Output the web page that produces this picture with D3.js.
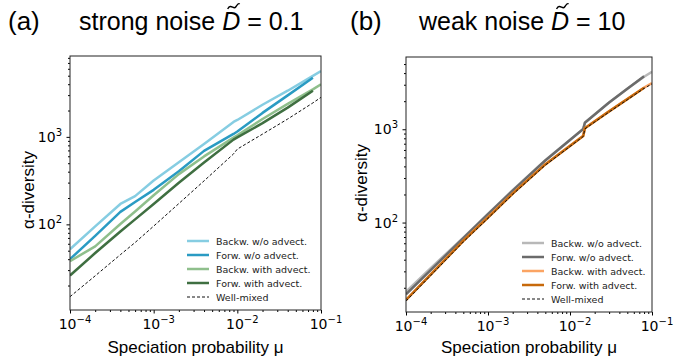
<!DOCTYPE html>
<html>
<head>
<meta charset="utf-8">
<script src="https://cdn.jsdelivr.net/npm/d3@7"></script>
<style>
  body { margin: 0; background: #fff; }
  svg { display: block; }
</style>
</head>
<body>
<div id="chart"></div>
<script>
// panel (a): strong noise
const muA = [1e-4, 2e-4, 4e-4, 6e-4, 1e-3, 2e-3, 4e-3, 9e-3, 1e-2, 2e-2, 4e-2, 8e-2, 1e-1];
const backwNoAdvA = [52, 95, 171, 210, 317, 512, 828, 1480, 1560, 2330, 3370, 4980, 5650];
const forwNoAdvA  = [40, 74, 139, 180, 248, 405, 692, 1080, 1150, 1880, 2980, 4740, null];
const backwAdvA   = [38, 56, 101, 140, 215, 375, 598, 980, 1040, 1600, 2380, 3490, 3980];
const forwAdvA    = [26, 47, 83, 114, 171, 299, 509, 930, 985, 1435, 2160, 3370, null];
const wellMixedA  = [14.9, 25.8, 45, 62, 95.5, 173, 314, 638, 725, 1075, 1600, 2445, 2830];

// panel (b): weak noise
const muB = [1e-4, 2e-4, 5e-4, 1e-3, 2e-3, 5e-3, 1.45e-2, 1.52e-2, 3e-2, 5e-2, 8e-2, 1e-1];
const backwNoAdvB = [18.2, 32.4, 69, 124, 222, 467, 1010, 1180, 1940, 2720, 3650, 4140];
const forwNoAdvB  = [17.0, 31, 68, 123, 220, 463, 1005, 1175, 1935, 2715, 3700, null];
const backwAdvB   = [14.8, 27.8, 63.8, 114, 205, 422, 850, 1030, 1560, 2110, 2790, 3125];
const forwAdvB    = [14.8, 27.6, 63.5, 113, 204, 420, 846, 1025, 1555, 2105, 2785, null];
const wellMixedB  = [14.4, 27.0, 62.0, 111, 200, 412, 836, 1010, 1530, 2070, 2740, 3070];

const legendLabels = ["Backw. w/o advect.", "Forw. w/o advect.", "Backw. with advect.", "Forw. with advect.", "Well-mixed"];
const xMajor = [1e-4, 1e-3, 1e-2, 1e-1];
const xExp = ["−4", "−3", "−2", "−1"];
const yMajor = [1e2, 1e3];
const yExp = ["2", "3"];

const svg = d3.select("#chart").append("svg")
  .attr("width", 685)
  .attr("height", 362);

function minorTicks(lo, hi) {
  const out = [];
  for (let e = Math.floor(Math.log10(lo)); e <= Math.ceil(Math.log10(hi)); e++) {
    for (let k = 2; k <= 9; k++) {
      const v = k * Math.pow(10, e);
      if (v >= lo && v <= hi) out.push(v);
    }
  }
  return out;
}

function drawPanel(p) {
  const x = d3.scaleLog().domain([1e-4, 1e-1]).range([p.left, p.right]);
  const y = d3.scaleLog().domain(p.yDomain).range([p.bottom, p.top]);

  const clipId = "clip-" + p.key;
  svg.append("clipPath").attr("id", clipId)
    .append("rect")
    .attr("x", p.left).attr("y", p.top)
    .attr("width", p.right - p.left).attr("height", p.bottom - p.top);

  const line = d3.line()
    .defined(d => d[1] != null)
    .x(d => x(d[0]))
    .y(d => y(d[1]));

  const g = svg.append("g").attr("clip-path", `url(#${clipId})`);
  p.series.forEach(s => {
    g.append("path")
      .datum(p.mu.map((m, i) => [m, s.values[i]]))
      .attr("fill", "none")
      .attr("stroke", s.color)
      .attr("stroke-width", s.dash ? 1 : 2.5)
      .attr("stroke-dasharray", s.dash ? "3,2" : null)
      .attr("stroke-linejoin", "round")
      .attr("d", line);
  });

  // minor ticks
  svg.append("g")
    .attr("transform", `translate(0,${p.bottom})`)
    .call(d3.axisBottom(x).tickValues(minorTicks(1e-4, 1e-1)).tickSize(2).tickFormat(""))
    .call(a => a.select(".domain").remove());
  svg.append("g")
    .attr("transform", `translate(${p.left},0)`)
    .call(d3.axisLeft(y).tickValues(minorTicks(p.yDomain[0], p.yDomain[1])).tickSize(2).tickFormat(""))
    .call(a => a.select(".domain").remove());

  // major ticks
  svg.append("g")
    .attr("transform", `translate(0,${p.bottom})`)
    .call(d3.axisBottom(x).tickValues(xMajor).tickSize(3.5).tickFormat(""))
    .call(a => a.select(".domain").remove());
  svg.append("g")
    .attr("transform", `translate(${p.left},0)`)
    .call(d3.axisLeft(y).tickValues(yMajor).tickSize(3.5).tickFormat(""))
    .call(a => a.select(".domain").remove());

  // tick labels 10^n
  xMajor.forEach((v, i) => {
    const t = svg.append("text")
      .attr("x", x(v) + 5)
      .attr("y", p.bottom + 19)
      .attr("text-anchor", "middle")
      .attr("font-family", "DejaVu Sans")
      .attr("font-size", 14);
    t.append("tspan").text("10");
    t.append("tspan").attr("dy", -6).attr("font-size", 10).text(xExp[i]);
  });
  yMajor.forEach((v, i) => {
    const t = svg.append("text")
      .attr("x", p.left - 8)
      .attr("y", y(v) + 5)
      .attr("text-anchor", "end")
      .attr("font-family", "DejaVu Sans")
      .attr("font-size", 14);
    t.append("tspan").text("10");
    t.append("tspan").attr("dy", -6).attr("font-size", 10).text(yExp[i]);
  });

  // frame
  svg.append("rect")
    .attr("x", p.left).attr("y", p.top)
    .attr("width", p.right - p.left).attr("height", p.bottom - p.top)
    .attr("fill", "none").attr("stroke", "#222").attr("stroke-width", 1);

  // axis labels
  svg.append("text")
    .attr("x", (p.left + p.right) / 2)
    .attr("y", 353)
    .attr("text-anchor", "middle")
    .attr("font-family", "Liberation Sans")
    .attr("font-size", 17)
    .text("Speciation probability μ");
  svg.append("text")
    .attr("transform", `translate(${p.ylabelX},${p.ylabelY}) rotate(-90)`)
    .attr("text-anchor", "middle")
    .attr("font-family", "Liberation Sans")
    .attr("font-size", 17)
    .text("α-diversity");

  // title
  svg.append("text")
    .attr("x", p.tagX).attr("y", 30)
    .attr("font-family", "Liberation Sans").attr("font-size", 26)
    .text(p.tag);
  const tt = svg.append("text")
    .attr("x", p.titleX).attr("y", 30)
    .attr("font-family", "Liberation Sans").attr("font-size", 25);
  tt.append("tspan").text(p.title + " ");
  tt.append("tspan").attr("font-style", "italic").text("D");
  tt.append("tspan").text(" = " + p.value);
  const bb = tt.node().getExtentOfChar(p.title.length + 1);
  const cx = bb.x + bb.width / 2 + 2.5;
  svg.append("path")
    .attr("d", `M${cx - 6},9 C${cx - 3},3 ${cx},10 ${cx + 2},7 S${cx + 5},3 ${cx + 6},4`)
    .attr("fill", "none")
    .attr("stroke", "#000")
    .attr("stroke-width", 1.4);

  // legend
  p.series.forEach((s, i) => {
    const ly = p.legY + i * 14;
    svg.append("line")
      .attr("x1", p.legX).attr("x2", p.legX + 22)
      .attr("y1", ly).attr("y2", ly)
      .attr("stroke", s.color)
      .attr("stroke-width", s.dash ? 1 : 2.5)
      .attr("stroke-dasharray", s.dash ? "3,2" : null);
    svg.append("text")
      .attr("x", p.legX + 29).attr("y", ly + 3.5)
      .attr("font-family", "DejaVu Sans").attr("font-size", 9.5)
      .attr("fill", "#222")
      .text(legendLabels[i]);
  });
}

drawPanel({
  key: "a", left: 70, right: 321, top: 56, bottom: 310, yDomain: [10.5, 8400],
  mu: muA,
  series: [
    { values: backwNoAdvA, color: "#86cde2" },
    { values: forwNoAdvA, color: "#2a9bc3" },
    { values: backwAdvA, color: "#8fbf8c" },
    { values: forwAdvA, color: "#3f6f41" },
    { values: wellMixedA, color: "#111", dash: true }
  ],
  ylabelX: 34, ylabelY: 190,
  tag: "(a)", tagX: 8, title: "strong noise", value: "0.1", titleX: 79,
  legX: 187, legY: 241
});

drawPanel({
  key: "b", left: 406, right: 652, top: 57, bottom: 312, yDomain: [11, 5950],
  mu: muB,
  series: [
    { values: backwNoAdvB, color: "#b8b8b8" },
    { values: forwNoAdvB, color: "#6b6b6b" },
    { values: backwAdvB, color: "#fba463" },
    { values: forwAdvB, color: "#c7690b" },
    { values: wellMixedB, color: "#111", dash: true }
  ],
  ylabelX: 367, ylabelY: 183,
  tag: "(b)", tagX: 350, title: "weak noise", value: "10", titleX: 419,
  legX: 522, legY: 243
});
</script>
</body>
</html>
